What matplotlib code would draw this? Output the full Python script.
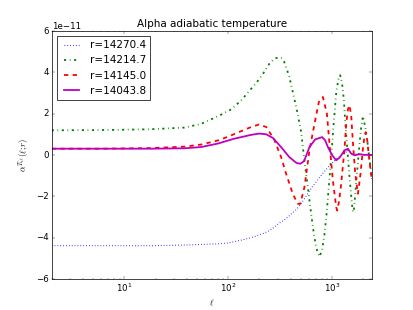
import numpy as np
import matplotlib
matplotlib.use('Agg')
import matplotlib.pyplot as plt

plt.style.use('classic')

# values in units of 1e-11
ell_a = [2, 6, 18, 38, 80, 100, 114, 134, 167, 186, 208, 232, 254, 278, 303, 347, 388,
         453, 506, 544, 608, 656, 733, 800, 880, 985, 1100, 1250, 1324, 1436, 1520,
         1650, 1800, 2000, 2200, 2447]
val_a = [-4.39, -4.39, -4.39, -4.36, -4.3, -4.26, -4.2, -4.12, -4.0, -3.92, -3.84, -3.74,
         -3.64, -3.5, -3.34, -3.15, -2.95, -2.65, -2.35, -2.12, -1.75, -1.5, -1.2, -0.95,
         -0.7, -0.45, -0.2, 0.0, 0.08, 0.22, 0.12, 0.04, 0.06, 0.02, 0.03, 0.0]

ell_b = [2, 6, 18, 38, 55, 80, 107, 134, 167, 195, 218, 249, 278, 303, 325, 347, 388, 424,
         463, 506, 544, 578, 608, 656, 706, 759, 806, 849, 891, 927, 985, 1036, 1100,
         1168, 1202, 1257, 1305, 1344, 1427, 1478, 1559, 1594, 1634, 1678, 1754, 1846,
         1916, 1990, 2094, 2190, 2289, 2393, 2447]
val_b = [1.19, 1.2, 1.24, 1.32, 1.5, 1.87, 2.2, 2.64, 3.2, 3.6, 3.94, 4.4, 4.65, 4.71,
         4.68, 4.5, 3.8, 2.95, 2.1, 1.1, -0.3, -1.3, -2.2, -3.5, -4.5, -4.92, -4.6, -3.82,
         -2.8, -1.72, -0.1, 1.4, 3.0, 3.8, 3.85, 3.4, 2.64, 1.59, -0.1, -1.08, -2.37,
         -2.77, -2.6, -1.88, -0.75, 0.54, 1.35, 1.87, 1.35, 0.7, -0.1, -0.91, -1.2]

ell_c = [2, 6, 18, 38, 55, 80, 100, 134, 167, 199, 233, 278, 324, 362, 420, 468, 495,
         544, 608, 680, 749, 819, 895, 948, 1022, 1100, 1125, 1176, 1229, 1323, 1374,
         1427, 1478, 1535, 1594, 1678, 1781, 1887, 1990, 2062, 2118, 2190, 2289, 2393,
         2447]
val_c = [0.3, 0.3, 0.33, 0.4, 0.5, 0.7, 0.88, 1.15, 1.35, 1.47, 1.35, 0.75, -0.1, -0.91,
         -1.88, -2.36, -2.37, -1.56, 0.22, 1.51, 2.56, 2.8, 2.0, 0.54, -1.24, -2.53,
         -2.69, -2.2, -1.4, 0.3, 1.5, 2.2, 2.4, 1.9, 0.6, -0.9, -1.88, -0.9, 0.3, 0.9,
         1.1, 0.7, -0.2, -1.0, -1.2]

ell_d = [2, 6, 18, 38, 55, 80, 114, 167, 199, 232, 270, 324, 388, 453, 495, 540, 608,
         690, 806, 862, 915, 1007, 1100, 1176, 1229, 1323, 1427, 1535, 1652, 1846, 2062,
         2447]
val_d = [0.3, 0.3, 0.3, 0.32, 0.38, 0.55, 0.78, 0.97, 1.03, 1.0, 0.82, 0.38, -0.1, -0.38,
         -0.43, -0.3, 0.38, 0.75, 0.86, 0.7, 0.38, -0.02, -0.26, -0.15, -0.02, 0.22, 0.3,
         0.06, -0.02, 0.03, 0.0, 0.0]

labels = ['r=14270.4', 'r=14214.7', 'r=14145.0', 'r=14043.8']

fig = plt.figure(figsize=(8, 6))
ax = fig.gca()
ax.semilogx(ell_a, np.array(val_a) * 1e-11, 'b:', lw=1.5, label=labels[0])
ax.semilogx(ell_b, np.array(val_b) * 1e-11, 'g-.', lw=2.5, label=labels[1])
ax.semilogx(ell_c, np.array(val_c) * 1e-11, 'r--', lw=2.5, label=labels[2])
ax.semilogx(ell_d, np.array(val_d) * 1e-11, 'm-', lw=2.5, label=labels[3])
ax.set_xlim(2, 2447)
ax.set_ylim(-6e-11, 6e-11)
ax.set_title('Alpha adiabatic temperature')
ax.set_xlabel(r'$\ell$')
ax.set_ylabel(r'$\alpha^{T\zeta_\ell}(\ell;r)$')
ax.legend(loc='upper left')
fig.savefig('out.png', dpi=51.7)
